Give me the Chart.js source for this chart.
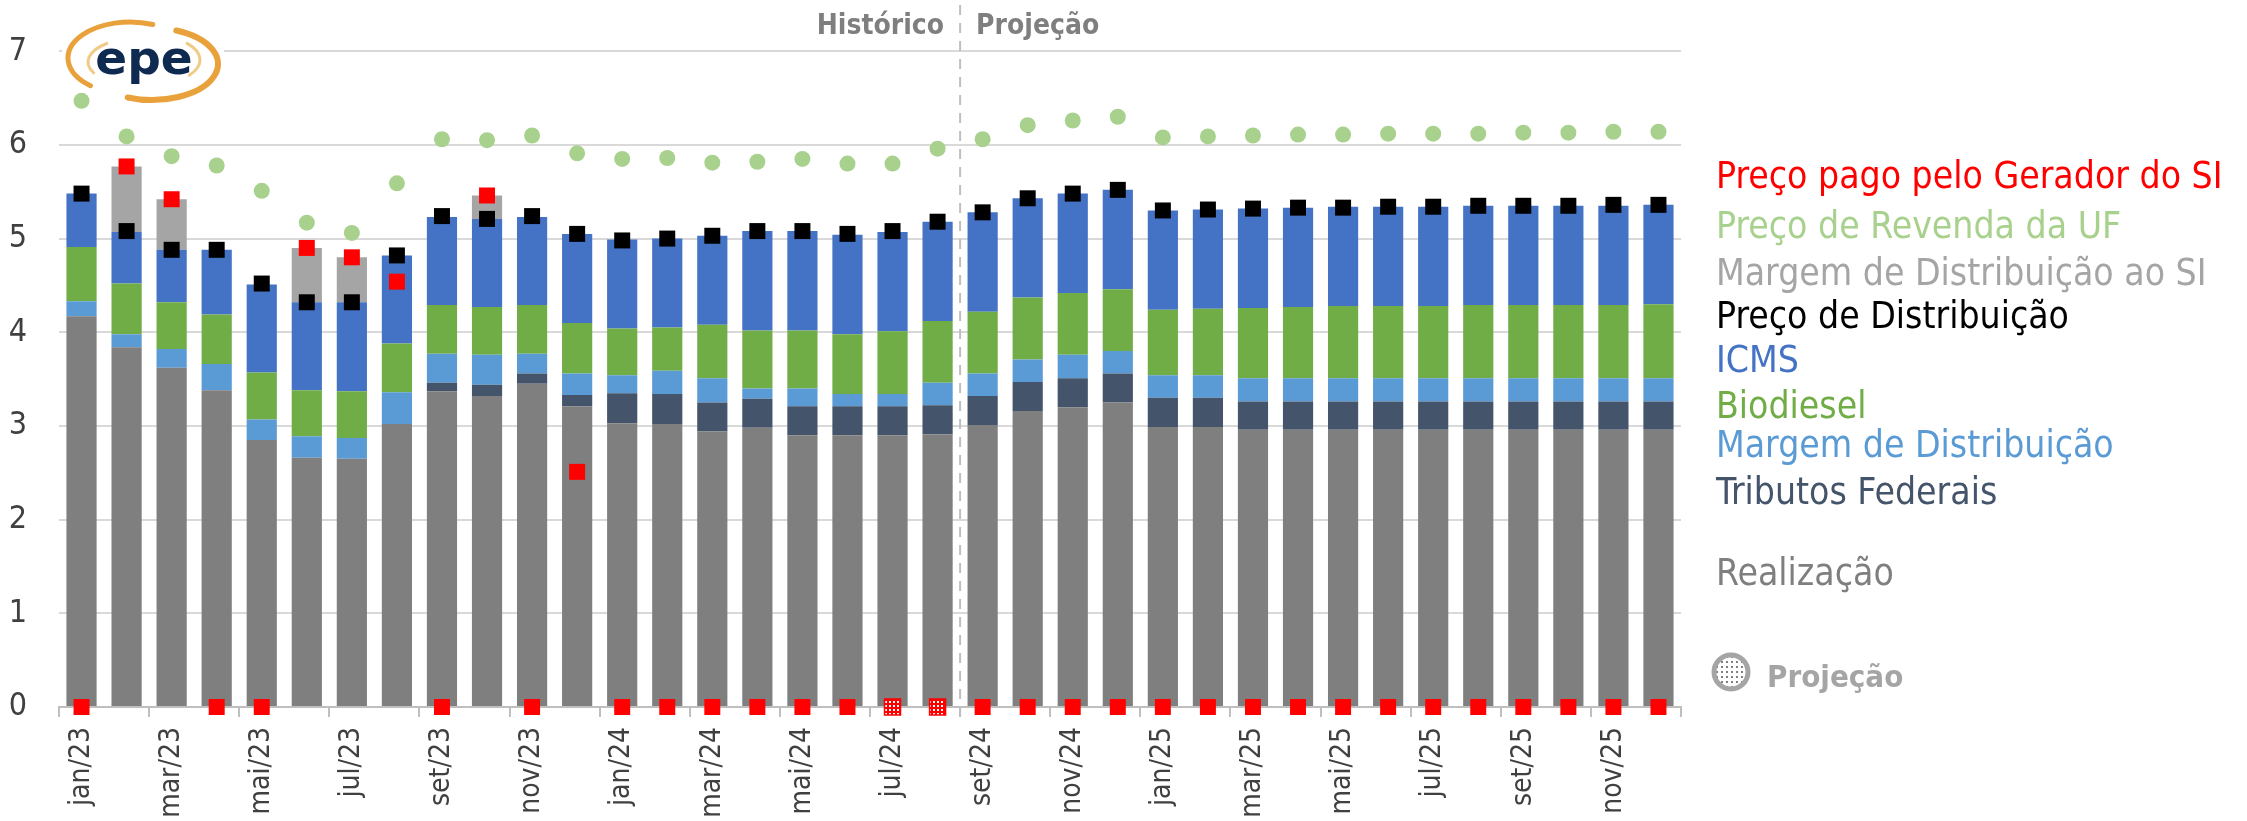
<!DOCTYPE html>
<html>
<head>
<meta charset="utf-8">
<script src="https://cdn.jsdelivr.net/npm/chart.js@4.4.0/dist/chart.umd.min.js"></script>
<style>
  html, body { margin: 0; padding: 0; background: #fff; }
  #wrap { width: 2247px; height: 821px; }
</style>
</head>
<body>
<div id="wrap"><canvas id="precoChart" width="2247" height="821"></canvas></div>
<script>
// meses (jan/23 a dez/25)
const meses = ['jan/23','fev/23','mar/23','abr/23','mai/23','jun/23','jul/23','ago/23','set/23','out/23','nov/23','dez/23',
  'jan/24','fev/24','mar/24','abr/24','mai/24','jun/24','jul/24','ago/24','set/24','out/24','nov/24','dez/24',
  'jan/25','fev/25','mar/25','abr/25','mai/25','jun/25','jul/25','ago/25','set/25','out/25','nov/25','dez/25'];

// componentes do preço (R$/l)
const realizacao = [4.17,3.84,3.62,3.38,2.85,2.66,2.65,3.02,3.37,3.32,3.45,3.21,
  3.03,3.02,2.94,2.98,2.90,2.90,2.90,2.91,3.01,3.16,3.20,3.25,
  2.99,2.99,2.96,2.96,2.96,2.96,2.96,2.96,2.96,2.96,2.96,2.96];
const tributos = [0,0,0,0,0,0,0,0,0.09,0.12,0.11,0.12,
  0.32,0.32,0.31,0.31,0.31,0.31,0.31,0.31,0.31,0.31,0.31,0.31,
  0.31,0.31,0.30,0.30,0.30,0.30,0.30,0.30,0.30,0.30,0.30,0.30];
const margem = [0.16,0.14,0.20,0.28,0.22,0.23,0.22,0.34,0.31,0.32,0.21,0.23,
  0.19,0.25,0.26,0.11,0.19,0.13,0.13,0.24,0.24,0.24,0.25,0.24,
  0.24,0.24,0.25,0.25,0.25,0.25,0.25,0.25,0.25,0.25,0.25,0.25];
const biodiesel = [0.58,0.54,0.50,0.53,0.50,0.49,0.50,0.52,0.52,0.51,0.52,0.54,
  0.50,0.46,0.57,0.62,0.62,0.64,0.67,0.66,0.66,0.66,0.66,0.66,
  0.70,0.71,0.75,0.76,0.77,0.77,0.77,0.78,0.78,0.78,0.78,0.79];
const icms = [0.57,0.55,0.56,0.69,0.94,0.94,0.95,0.94,0.94,0.94,0.94,0.95,
  0.95,0.95,0.95,1.06,1.06,1.06,1.06,1.06,1.06,1.06,1.06,1.06,
  1.06,1.06,1.06,1.06,1.06,1.06,1.06,1.06,1.06,1.06,1.06,1.06];
const margemSI = [0,0.70,0.54,0,0,0.58,0.48,-0.03,0,0.25,0,-0.03,
  0,0,0,0,0,0,0,0,0,0,0,0, 0,0,0,0,0,0,0,0,0,0,0,0];

// preços (marcadores)
const precoDistribuicao = [5.48,5.08,4.88,4.88,4.52,4.32,4.32,4.82,5.24,5.21,5.24,5.05,
  4.98,5.00,5.03,5.08,5.08,5.05,5.08,5.18,5.28,5.43,5.48,5.52,
  5.30,5.31,5.32,5.33,5.33,5.34,5.34,5.35,5.35,5.35,5.36,5.36];
const precoRevenda = [6.47,6.09,5.88,5.78,5.51,5.17,5.06,5.59,6.06,6.05,6.10,5.91,
  5.85,5.86,5.81,5.82,5.85,5.80,5.80,5.96,6.06,6.21,6.26,6.30,
  6.08,6.09,6.10,6.11,6.11,6.12,6.12,6.12,6.13,6.13,6.14,6.14];
const precoGerador = [0,5.77,5.42,0,0,4.90,4.80,4.54,0,5.46,0,2.51,
  0,0,0,0,0,0,0,0,0,0,0,0, 0,0,0,0,0,0,0,0,0,0,0,0];
const inicioProjecao = 20; // set/24
const geradorProjetado = [18, 19]; // jul/24 e ago/24 com padrão pontilhado

const legendItems = [
  ['Preço pago pelo Gerador do SI', '#FF0000', 188],
  ['Preço de Revenda da UF', '#A9D18E', 238],
  ['Margem de Distribuição ao SI', '#A5A5A5', 285],
  ['Preço de Distribuição', '#000000', 328],
  ['ICMS', '#4472C4', 372],
  ['Biodiesel', '#70AD47', 418],
  ['Margem de Distribuição', '#5B9BD5', 457],
  ['Tributos Federais', '#44546A', 504],
  ['Realização', '#7F7F7F', 585]
];

// padrão pontilhado
function dotPattern(bg, dot, step) {
  const c = document.createElement('canvas');
  c.width = step; c.height = step;
  const g = c.getContext('2d');
  g.fillStyle = bg; g.fillRect(0, 0, step, step);
  g.fillStyle = dot; g.fillRect(1, 1, 2, 2);
  return g.createPattern(c, 'repeat');
}
const redDots = dotPattern('#FF0000', '#FFFFFF', 4);
const grayDots = dotPattern('#FFFFFF', '#7F7F7F', 5);

const geradorFill = precoGerador.map((v, i) => geradorProjetado.includes(i) ? redDots : '#FF0000');

const condensed = "'DejaVu Sans Condensed', 'Liberation Sans Narrow', sans-serif";

const extrasPlugin = {
  id: 'extras',
  afterDraw(chart) {
    const ctx = chart.ctx;
    const x = chart.scales.x;
    const area = chart.chartArea;
    ctx.save();

    // linha Histórico | Projeção
    const lx = (x.getPixelForValue(inicioProjecao - 1) + x.getPixelForValue(inicioProjecao)) / 2;
    ctx.strokeStyle = '#BFBFBF';
    ctx.lineWidth = 2;
    ctx.setLineDash([10, 8]);
    ctx.beginPath();
    ctx.moveTo(lx, 5);
    ctx.lineTo(lx, area.bottom + 10);
    ctx.stroke();
    ctx.setLineDash([]);

    ctx.fillStyle = '#7F7F7F';
    ctx.font = 'bold 28px ' + condensed;
    ctx.textBaseline = 'alphabetic';
    ctx.textAlign = 'right';
    ctx.fillText('Histórico', lx - 16, 34);
    ctx.textAlign = 'left';
    ctx.fillText('Projeção', lx + 16, 34);

    // legenda
    ctx.font = '37px ' + condensed;
    legendItems.forEach(([txt, col, y]) => {
      ctx.fillStyle = col;
      ctx.fillText(txt, 1716, y);
    });
    ctx.beginPath();
    ctx.arc(1731, 672, 17, 0, Math.PI * 2);
    ctx.fillStyle = grayDots;
    ctx.fill();
    ctx.lineWidth = 5;
    ctx.strokeStyle = '#A5A5A5';
    ctx.stroke();
    ctx.fillStyle = '#A5A5A5';
    ctx.font = 'bold 31px ' + condensed;
    ctx.fillText('Projeção', 1767, 687);

    // logo epe
    ctx.fillStyle = '#FFFFFF';
    ctx.fillRect(62, 17, 162, 66);
    ctx.lineCap = 'round';
    ctx.strokeStyle = '#E9A23B';
    ctx.lineWidth = 5;
    ctx.beginPath();
    ctx.ellipse(130, 58, 62, 36, 0, Math.PI * 0.72, Math.PI * 1.62);
    ctx.stroke();
    ctx.lineWidth = 6;
    ctx.beginPath();
    ctx.ellipse(152, 64, 66, 36, 0, -Math.PI * 0.38, Math.PI * 0.62);
    ctx.stroke();
    ctx.strokeStyle = '#F0CB87';
    ctx.lineWidth = 3;
    ctx.beginPath();
    ctx.ellipse(140, 62, 52, 24, 0, Math.PI * 0.85, Math.PI * 1.28);
    ctx.stroke();
    ctx.beginPath();
    ctx.ellipse(144, 60, 56, 26, 0, Math.PI * 1.78, Math.PI * 2.2);
    ctx.stroke();
    ctx.fillStyle = '#0E2A50';
    ctx.font = 'bold 47px "DejaVu Sans", sans-serif';
    ctx.textAlign = 'center';
    ctx.fillText('epe', 144, 74);
    ctx.restore();
  }
};

const barSet = (label, data, color) => ({
  type: 'bar', label, data, backgroundColor: color, order: 2,
  barPercentage: 0.67, categoryPercentage: 1
});
const pointSet = (label, data, style, radius, color, stack) => ({
  type: 'line', label, data, showLine: false, stack, order: 0, clip: false,
  pointStyle: style, pointRadius: radius, pointHoverRadius: radius,
  pointBackgroundColor: color, pointBorderWidth: 0, pointBorderColor: color
});

const ctx = document.getElementById('precoChart').getContext('2d');
const precoChart = new Chart(ctx, {
  data: {
    labels: meses,
    datasets: [
      barSet('Realização', realizacao, '#7F7F7F'),
      barSet('Tributos Federais', tributos, '#44546A'),
      barSet('Margem de Distribuição', margem, '#5B9BD5'),
      barSet('Biodiesel', biodiesel, '#70AD47'),
      barSet('ICMS', icms, '#4472C4'),
      barSet('Margem de Distribuição ao SI', margemSI, '#A5A5A5'),
      pointSet('Preço de Revenda da UF', precoRevenda, 'circle', 8, '#A9D18E', 'rev'),
      pointSet('Preço de Distribuição', precoDistribuicao, 'rect', 11.3, '#000000', 'dist'),
      Object.assign(pointSet('Preço pago pelo Gerador do SI', precoGerador, 'rect', 11.3, geradorFill, 'ger'), {
        pointBorderColor: '#FF0000',
        pointBorderWidth: precoGerador.map((v, i) => geradorProjetado.includes(i) ? 1.5 : 0)
      })
    ]
  },
  options: {
    responsive: false,
    animation: false,
    devicePixelRatio: 1,
    layout: { padding: { top: 50, right: 566, left: 0, bottom: 0 } },
    plugins: { legend: { display: false }, tooltip: { enabled: false } },
    scales: {
      x: {
        stacked: true,
        offset: true,
        grid: {
          offset: true,
          drawOnChartArea: false,
          drawTicks: true,
          tickLength: 10,
          lineWidth: 2,
          color: (c) => (c.index === undefined || c.index % 2 === 0) ? '#BFBFBF' : 'rgba(0,0,0,0)'
        },
        border: { display: true, color: '#BFBFBF', width: 2 },
        ticks: {
          autoSkip: false,
          minRotation: 90,
          maxRotation: 90,
          padding: 10,
          color: '#404040',
          font: { family: condensed, size: 28 },
          callback: (v, i) => i % 2 === 0 ? meses[i] : ''
        },
        afterFit: (s) => { s.height = 114; }
      },
      y: {
        stacked: true,
        min: 0,
        max: 7,
        ticks: {
          stepSize: 1,
          padding: 32,
          color: '#404040',
          font: { family: "'Liberation Sans Narrow', 'DejaVu Sans Condensed', sans-serif", size: 32 }
        },
        grid: { color: '#D9D9D9', lineWidth: 2, drawTicks: false },
        border: { display: false },
        afterFit: (s) => { s.width = 59; }
      }
    }
  },
  plugins: [extrasPlugin]
});
</script>
</body>
</html>
